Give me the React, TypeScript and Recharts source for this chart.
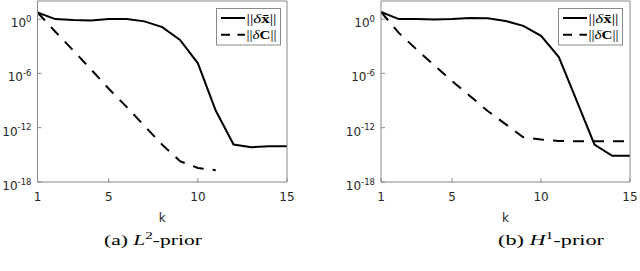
import React from 'react';
import { LineChart, Line, XAxis, YAxis, Legend, Label } from 'recharts';

// iteration index k
const kValues = [1, 2, 3, 4, 5, 6, 7, 8, 9, 10, 11, 12, 13, 14, 15];

// (a) L2-prior
const l2StateErr = [5.4, 1.0, 0.79, 0.71, 1.0, 1.0, 0.56, 0.13, 5.0e-3, 1.3e-5, 7.9e-11, 1.4e-14, 7.1e-15, 8.9e-15, 8.9e-15];
const l2CovErr = [5.4, 4.0e-2, 3.5e-4, 2.8e-6, 2.0e-8, 2.0e-10, 1.6e-12, 1.3e-14, 2.0e-16, 3.5e-17, 2.0e-17];

// (b) H1-prior
const h1StateErr = [6.3, 1.0, 1.0, 0.89, 1.0, 1.35, 1.26, 0.63, 0.18, 1.4e-2, 6.3e-5, 1.0e-9, 1.4e-14, 7.9e-16, 7.9e-16];
const h1CovErr = [6.3, 3.0e-2, 4.4e-4, 7.9e-6, 1.4e-7, 3.2e-9, 7.1e-11, 2.5e-12, 8.9e-14, 5.0e-14, 3.5e-14, 3.2e-14, 3.2e-14, 3.2e-14, 3.2e-14];

const xTicks = [1, 5, 10, 15];
const yTicks = [1e-18, 1e-12, 1e-6, 1];
const xDomain = [1, 15];
const yDomain = [1e-18, 100];

const seriesNames = ['state', 'cov'];
const seriesSymbols = ['x\u0304', 'C'];
const captionTags = ['(a)', '(b)'];
const captionLetters = ['L', 'H'];
const captionSups = ['2', '1'];
const axisTitle = 'k';

const FRAME = '#8a8a8a';
const TEXT = '#262626';
const SANS = '"DejaVu Sans", sans-serif';
const SERIF = '"Liberation Serif", serif';

const buildRows = (state: number[], cov: number[]) =>
  kValues.map((k, i) => ({ k, state: state[i], cov: i < cov.length ? cov[i] : null }));

const YTick = (props: any) => {
  const { x, y, payload } = props;
  const exp = Math.round(Math.log10(payload.value));
  return (
    <text x={x} y={y + 8} textAnchor="end" fontFamily={SANS} fontSize={12} fill={TEXT}>
      10
      <tspan dy={-5.5} fontSize={8.5}>{exp}</tspan>
    </text>
  );
};

const XTick = (props: any) => {
  const { x, y, payload } = props;
  return (
    <text x={x} y={y + 9.3} textAnchor="middle" fontFamily={SANS} fontSize={12} fill={TEXT}>
      {String(payload.value)}
    </text>
  );
};

const LegendBox = ({ left }: { left: number }) => (
  <div style={{ position: 'absolute', left, top: 8, width: 66, height: 38 }}>
    <svg width={66} height={38} style={{ display: 'block' }}>
      <rect x={0.5} y={0.5} width={64} height={36.5} fill="#fff" stroke={FRAME} strokeWidth={1} />
      {seriesNames.map((nm, i) => {
        const cy = 10 + 16.7 * i;
        return (
          <g key={nm}>
            <line x1={5} x2={29} y1={cy} y2={cy} stroke="#000" strokeWidth={2} strokeDasharray={i === 1 ? '9 7.5' : undefined} />
            <text x={30.5} y={cy + 4.5} fontFamily={SERIF} fontSize={12.5} fill="#000" textLength={30} lengthAdjust="spacingAndGlyphs">
              ||
              <tspan fontStyle="italic">{'\u03b4'}</tspan>
              <tspan fontWeight="bold">{seriesSymbols[i]}</tspan>
              ||
            </text>
          </g>
        );
      })}
    </svg>
  </div>
);

const renderLegend = () => null;

type PanelProps = {
  rows: any[];
  marginLeft: number;
  marginRight: number;
  legendLeft: number;
  idx: number;
  capCx: number;
  capW: number;
  useLegend: boolean;
};

const Panel = ({ rows, marginLeft, marginRight, legendLeft, idx, capCx, capW, useLegend }: PanelProps) => {
  const axisLabel = (p: any) => {
    const vb = p.viewBox || {};
    const cx = vb.x + vb.width / 2;
    return (
      <g>
        <text x={cx} y={221.5} textAnchor="middle" fontFamily={SANS} fontSize={12} fill={TEXT}>
          {axisTitle}
        </text>
        <text x={capCx} y={244.5} textAnchor="middle" fontFamily={SERIF} fontSize={15} fill="#000" textLength={capW} lengthAdjust="spacingAndGlyphs">
          {captionTags[idx] + ' '}
          <tspan fontStyle="italic">{captionLetters[idx]}</tspan>
          <tspan dy={-5.5} fontSize={10.5}>{captionSups[idx]}</tspan>
          <tspan dy={5.5}>-prior</tspan>
        </text>
      </g>
    );
  };
  return (
    <div style={{ position: 'relative', width: 320, height: 271 }}>
      <LineChart width={320} height={271} data={rows} margin={{ top: 0, right: marginRight, bottom: 88, left: marginLeft - 1 }}>
        <XAxis
          dataKey="k"
          type="number"
          domain={xDomain}
          ticks={xTicks}
          allowDataOverflow
          height={1}
          tickSize={-4}
          tickMargin={14}
          tick={<XTick />}
          stroke="#888888"
        >
          <Label content={axisLabel} />
        </XAxis>
        <XAxis
          xAxisId="top"
          orientation="top"
          type="number"
          domain={xDomain}
          ticks={xTicks}
          allowDataOverflow
          height={1}
          tickSize={-4}
          tick={false}
          stroke="#888888"
        />
        <YAxis
          type="number"
          scale="log"
          domain={yDomain}
          ticks={yTicks}
          allowDataOverflow
          width={1}
          tickSize={-4}
          tickMargin={10}
          tick={<YTick />}
          stroke="#888888"
        />
        <YAxis
          yAxisId="right"
          orientation="right"
          type="number"
          scale="log"
          domain={yDomain}
          ticks={yTicks}
          allowDataOverflow
          width={1}
          tickSize={-4}
          tick={false}
          stroke="#888888"
        />
        <Line dataKey="state" stroke="#000" strokeWidth={2} dot={false} isAnimationActive={false} />
        <Line dataKey="cov" stroke="#000" strokeWidth={2} strokeDasharray="11 9" dot={false} isAnimationActive={false} />
        {useLegend && (
          <Legend layout="horizontal" verticalAlign="middle" align="center" wrapperStyle={{ left: 0, top: 0, width: 1, height: 1 }} content={renderLegend} />
        )}
      </LineChart>
      <LegendBox left={legendLeft} />
    </div>
  );
};

export default function App() {
  const rowsA = buildRows(l2StateErr, l2CovErr);
  const rowsB = buildRows(h1StateErr, h1CovErr);
  return (
    <div style={{ position: 'absolute', left: 0, top: 0, width: 640, height: 271, background: '#fff' }}>
      <div style={{ position: 'absolute', left: 0, top: 0 }}>
        <Panel rows={rowsA} marginLeft={37.5} marginRight={32} legendLeft={216.2} idx={0} capCx={153} capW={98} useLegend={false} />
      </div>
      <div style={{ position: 'absolute', left: 320, top: 0 }}>
        <Panel rows={rowsB} marginLeft={61} marginRight={9} legendLeft={238} idx={1} capCx={231} capW={106} useLegend={true} />
      </div>
    </div>
  );
}
